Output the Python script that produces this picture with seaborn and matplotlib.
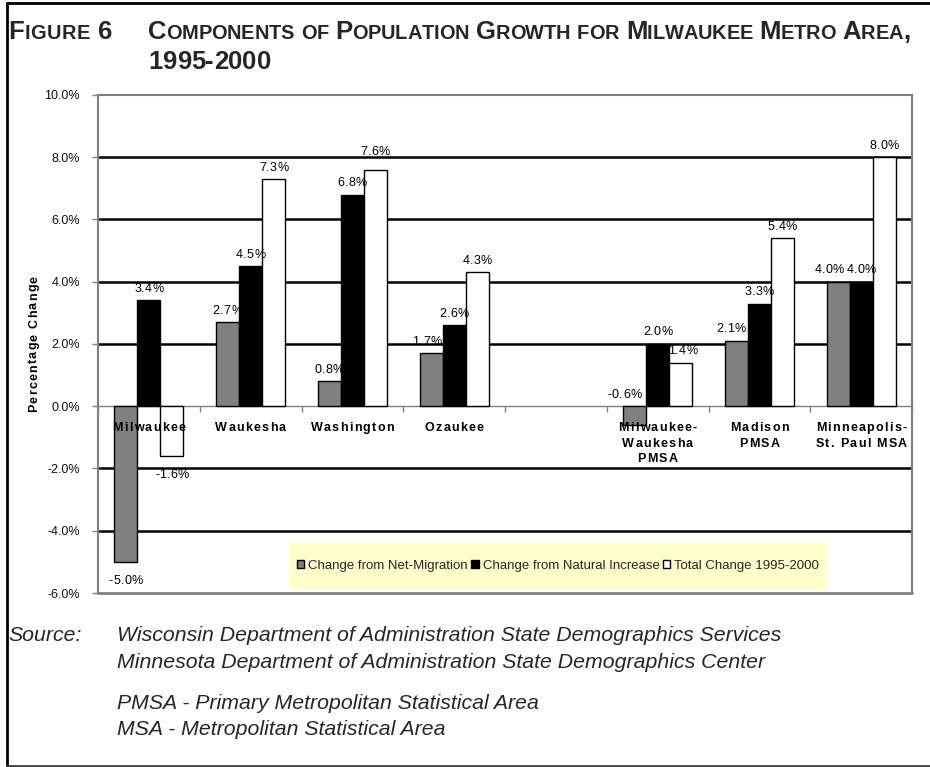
import matplotlib
matplotlib.use("Agg")
import numpy as np
import pandas as pd
import matplotlib.pyplot as plt
import seaborn as sns
from matplotlib.transforms import IdentityTransform
from matplotlib.font_manager import FontProperties
from matplotlib.patches import Rectangle, Patch
from matplotlib.lines import Line2D
from matplotlib.ticker import FuncFormatter, FixedLocator

# ---- data -------------------------------------------------------------
areas = ["Milwaukee", "Waukesha", "Washington", "Ozaukee", " ",
         "Milwaukee-\nWaukesha\nPMSA", "Madison\nPMSA", "Minneapolis-\nSt. Paul MSA"]
net_migration = [-5.0, 2.7, 0.8, 1.7, None, -0.6, 2.1, 4.0]
natural_increase = [3.4, 4.5, 6.8, 2.6, None, 2.0, 3.3, 4.0]
total_change = [-1.6, 7.3, 7.6, 4.3, None, 1.4, 5.4, 8.0]
components = ["Change from Net-Migration", "Change from Natural Increase",
              "Total Change 1995-2000"]
bar_colors = ["#808080", "#000000", "#FFFFFF"]
y_ticks = [-6, -4, -2, 0, 2, 4, 6, 8, 10]

title_number = "Figure 6"
title_line1 = "Components of Population Growth for Milwaukee Metro Area,"
title_line2 = "1995-2000"
source_label = "Source:"
source_lines = ["Wisconsin Department of Administration State Demographics Services",
                "Minnesota Department of Administration State Demographics Center",
                "",
                "PMSA - Primary Metropolitan Statistical Area",
                "MSA - Metropolitan Statistical Area"]

rows = []
for comp, vals in zip(components, [net_migration, natural_increase, total_change]):
    for a, v in zip(areas, vals):
        if v is not None:
            rows.append({"area": a, "component": comp, "value": v})
df = pd.DataFrame(rows)

# ---- figure -------------------------------------------------------------
sns.set_style("white")
FAM = ["Liberation Sans", "DejaVu Sans"]
plt.rcParams["font.family"] = FAM
W, H = 930, 767
fig = plt.figure(figsize=(W / 100, H / 100), dpi=100)
ax = fig.add_axes([98 / W, 1 - 593 / H, (912 - 98) / W, (593 - 95) / H])

sns.barplot(data=df, x="area", y="value", hue="component", order=areas,
            hue_order=components, palette=bar_colors, saturation=1,
            width=0.68, edgecolor="black", linewidth=1, ax=ax, legend=False,
            errorbar=None, zorder=2)

ax.set_xlim(-0.5, len(areas) - 0.5)
ax.set_ylim(min(y_ticks), max(y_ticks))
ax.set_xlabel("")
ax.set_ylabel("")

# horizontal rules at the inner ticks
for t in y_ticks[1:-1]:
    if t != 0:
        ax.axhline(t, color="black", lw=1.8, zorder=0.8)

grey = "#808080"
ax.spines["bottom"].set_position(("data", 0))
ax.spines["bottom"].set_color(grey)
ax.spines["bottom"].set_linewidth(1)
ax.spines["bottom"].set_zorder(1.5)
for side in ["left", "top", "right"]:
    ax.spines[side].set_color(grey)
    ax.spines[side].set_linewidth(1.5)
ax.axhline(min(y_ticks), color=grey, lw=2, clip_on=False, zorder=3)

ax.yaxis.set_major_locator(FixedLocator(y_ticks))
ax.yaxis.set_major_formatter(FuncFormatter(lambda v, p: f"{v:.1f}%"))
ax.tick_params(axis="y", direction="out", length=4, width=1, color=grey,
               labelsize=9, pad=9, left=True, labelcolor="#111111")
ax.set_xticks(range(len(areas)))
ax.set_xticklabels([""] * len(areas))
ax.tick_params(axis="x", which="major", length=0)
ax.xaxis.set_minor_locator(FixedLocator(np.arange(-0.5, len(areas), 1.0)))
ax.tick_params(axis="x", which="minor", direction="out", length=4, width=1,
               color=grey, bottom=True)

# ---- text helpers (pixel coordinates, origin top-left) -----------------
R = fig.canvas.get_renderer()
PX = IdentityTransform()


def text_w(s, fp):
    if not s:
        return 0.0
    return R.get_text_width_height_descent(s, fp, ismath=False)[0]


def advance(s, fp):
    return text_w(s + "l", fp) - text_w("l", fp)


def tracked(x, y, s, fp, track=0.0, ha="center", rotation=0, color="black", zorder=6):
    """Draw s one glyph at a time with extra spacing between glyphs."""
    offs = [advance(s[:i], fp) + i * track for i in range(len(s))]
    total = text_w(s, fp) + track * (len(s) - 1)
    start = {"center": -total / 2, "left": 0.0, "right": -total}[ha]
    for c, o in zip(s, offs):
        if c == " ":
            continue
        if rotation == 90:
            px, py = x, H - (y - (start + o))
        else:
            px, py = x + start + o, H - y
        fig.text(px, py, c, transform=PX, fontproperties=fp, ha="left",
                 va="baseline", rotation=rotation, rotation_mode="anchor",
                 color=color, zorder=zorder)


def to_px(xd, yd):
    X, Y = ax.transData.transform((xd, yd))
    return X, H - Y


# ---- category labels under the zero line -------------------------------
fp_cat = FontProperties(family=FAM, weight="bold", size=9)
for i, a in enumerate(areas):
    if not a.strip():
        continue
    cx, zy = to_px(i, 0)
    for k, line in enumerate(a.split("\n")):
        tracked(cx, zy + 25 + 15.5 * k, line, fp_cat, track=1.3)

# ---- value labels -------------------------------------------------------
fp_val = FontProperties(family=FAM, size=9)
# (series, category): (dx, dy) pixel nudges that keep labels clear of neighbours
label_nudge = {(0, 3): (-4, 0), (0, 6): (-5, 0), (0, 7): (-9, 0),
               (2, 2): (0, -6), (2, 5): (2, 0)}
for h, cont in enumerate(ax.containers):
    for patch in cont.patches:
        v = patch.get_height()
        if np.isnan(v):
            continue
        xc = patch.get_x() + patch.get_width() / 2
        i = int(round(xc))
        dx, dy = label_nudge.get((h, i), (0, 0))
        px, py = to_px(xc, v)
        if v < 0 and v > -1:
            # short negative bar: label sits above the zero line
            _, zy = to_px(xc, 0)
            by, dx = zy - 8, -10
        elif v >= 0:
            by = py - 8.5
        else:
            by = py + 22
        tracked(px + dx, by + dy, f"{v:.1f}%", fp_val, track=0.3)

# ---- y-axis title ---------------------------------------------------------
fp_ylab = FontProperties(family=FAM, weight="bold", size=9)
_, top_y = to_px(0, max(y_ticks))
_, bot_y = to_px(0, min(y_ticks))
tracked(37, (top_y + bot_y) / 2, "Percentage Change", fp_ylab, track=1.25, rotation=90)

# ---- legend on a pale yellow panel -----------------------------------------
fig.add_artist(Rectangle((289, H - 589), 538, 46, transform=PX,
                         facecolor="#FFFFCC", edgecolor="none", zorder=4))
handles = [Patch(facecolor=c.patches[0].get_facecolor(), edgecolor="black", lw=1)
           for c in ax.containers]
leg = fig.legend(handles, components, loc="center", bbox_to_anchor=(558, H - 566),
                 bbox_transform=PX, ncol=3, frameon=False, fontsize=9.5,
                 handlelength=0.55, handleheight=0.55, handletextpad=0.3,
                 columnspacing=0.25, borderpad=0)
leg.set_zorder(5)


# ---- title in small capitals ------------------------------------------------
def smallcap_runs(s):
    runs = []
    for ch in s:
        big = not ch.islower()
        if runs and runs[-1][1] == big:
            runs[-1][0] += ch.upper()
        else:
            runs.append([ch.upper(), big])
    return runs


TSIZE = 18.5
fp_big = FontProperties(family=FAM, weight="bold", size=TSIZE)
fp_small = FontProperties(family=FAM, weight="bold", size=TSIZE * 0.78)


def glyphs(s):
    out = []
    for t, b in smallcap_runs(s):
        for ch in t:
            out.append((ch, fp_big if b else fp_small))
    return out


def glyph_advances(gl):
    return [advance(ch, fp) for ch, fp in gl]


def draw_glyphs(x, y, gl, track):
    for (ch, fp), adv in zip(gl, glyph_advances(gl)):
        if ch != " ":
            fig.text(x, H - y, ch, transform=PX, fontproperties=fp, ha="left",
                     va="baseline", zorder=6)
        x += adv + track
    return x


def fit_track(gl, width):
    return (width - sum(glyph_advances(gl))) / max(len(gl) - 1, 1)


g1 = glyphs(title_line1)
t1 = fit_track(g1, 910 - 148)
draw_glyphs(8, 39, glyphs(title_number), max(t1, 0.5))
draw_glyphs(148, 39, g1, t1)
draw_glyphs(148, 69, glyphs(title_line2), max(t1, 0.0))

# ---- source notes ------------------------------------------------------------
probe = FontProperties(family=FAM, style="italic", size=14)
ssize = 14 * 665 / text_w(source_lines[0], probe)
fp_src = FontProperties(family=FAM, style="italic", size=ssize)
fig.text(8, H - 641, source_label, transform=PX, fontproperties=fp_src,
         ha="left", va="baseline")
ys = [641, 668, 689, 709, 735]
for line, yy in zip(source_lines, ys):
    if line:
        fig.text(117, H - yy, line, transform=PX, fontproperties=fp_src,
                 ha="left", va="baseline")

# ---- outer frame ---------------------------------------------------------------
fig.add_artist(Line2D([7, 7], [H - 3, H - 766], transform=PX, color="black", lw=2))
fig.add_artist(Line2D([7, W], [H - 3, H - 3], transform=PX, color="black", lw=2))
fig.add_artist(Line2D([7, W], [H - 765.5, H - 765.5], transform=PX, color="#404040", lw=2))

fig.savefig("out.png", dpi=100)
